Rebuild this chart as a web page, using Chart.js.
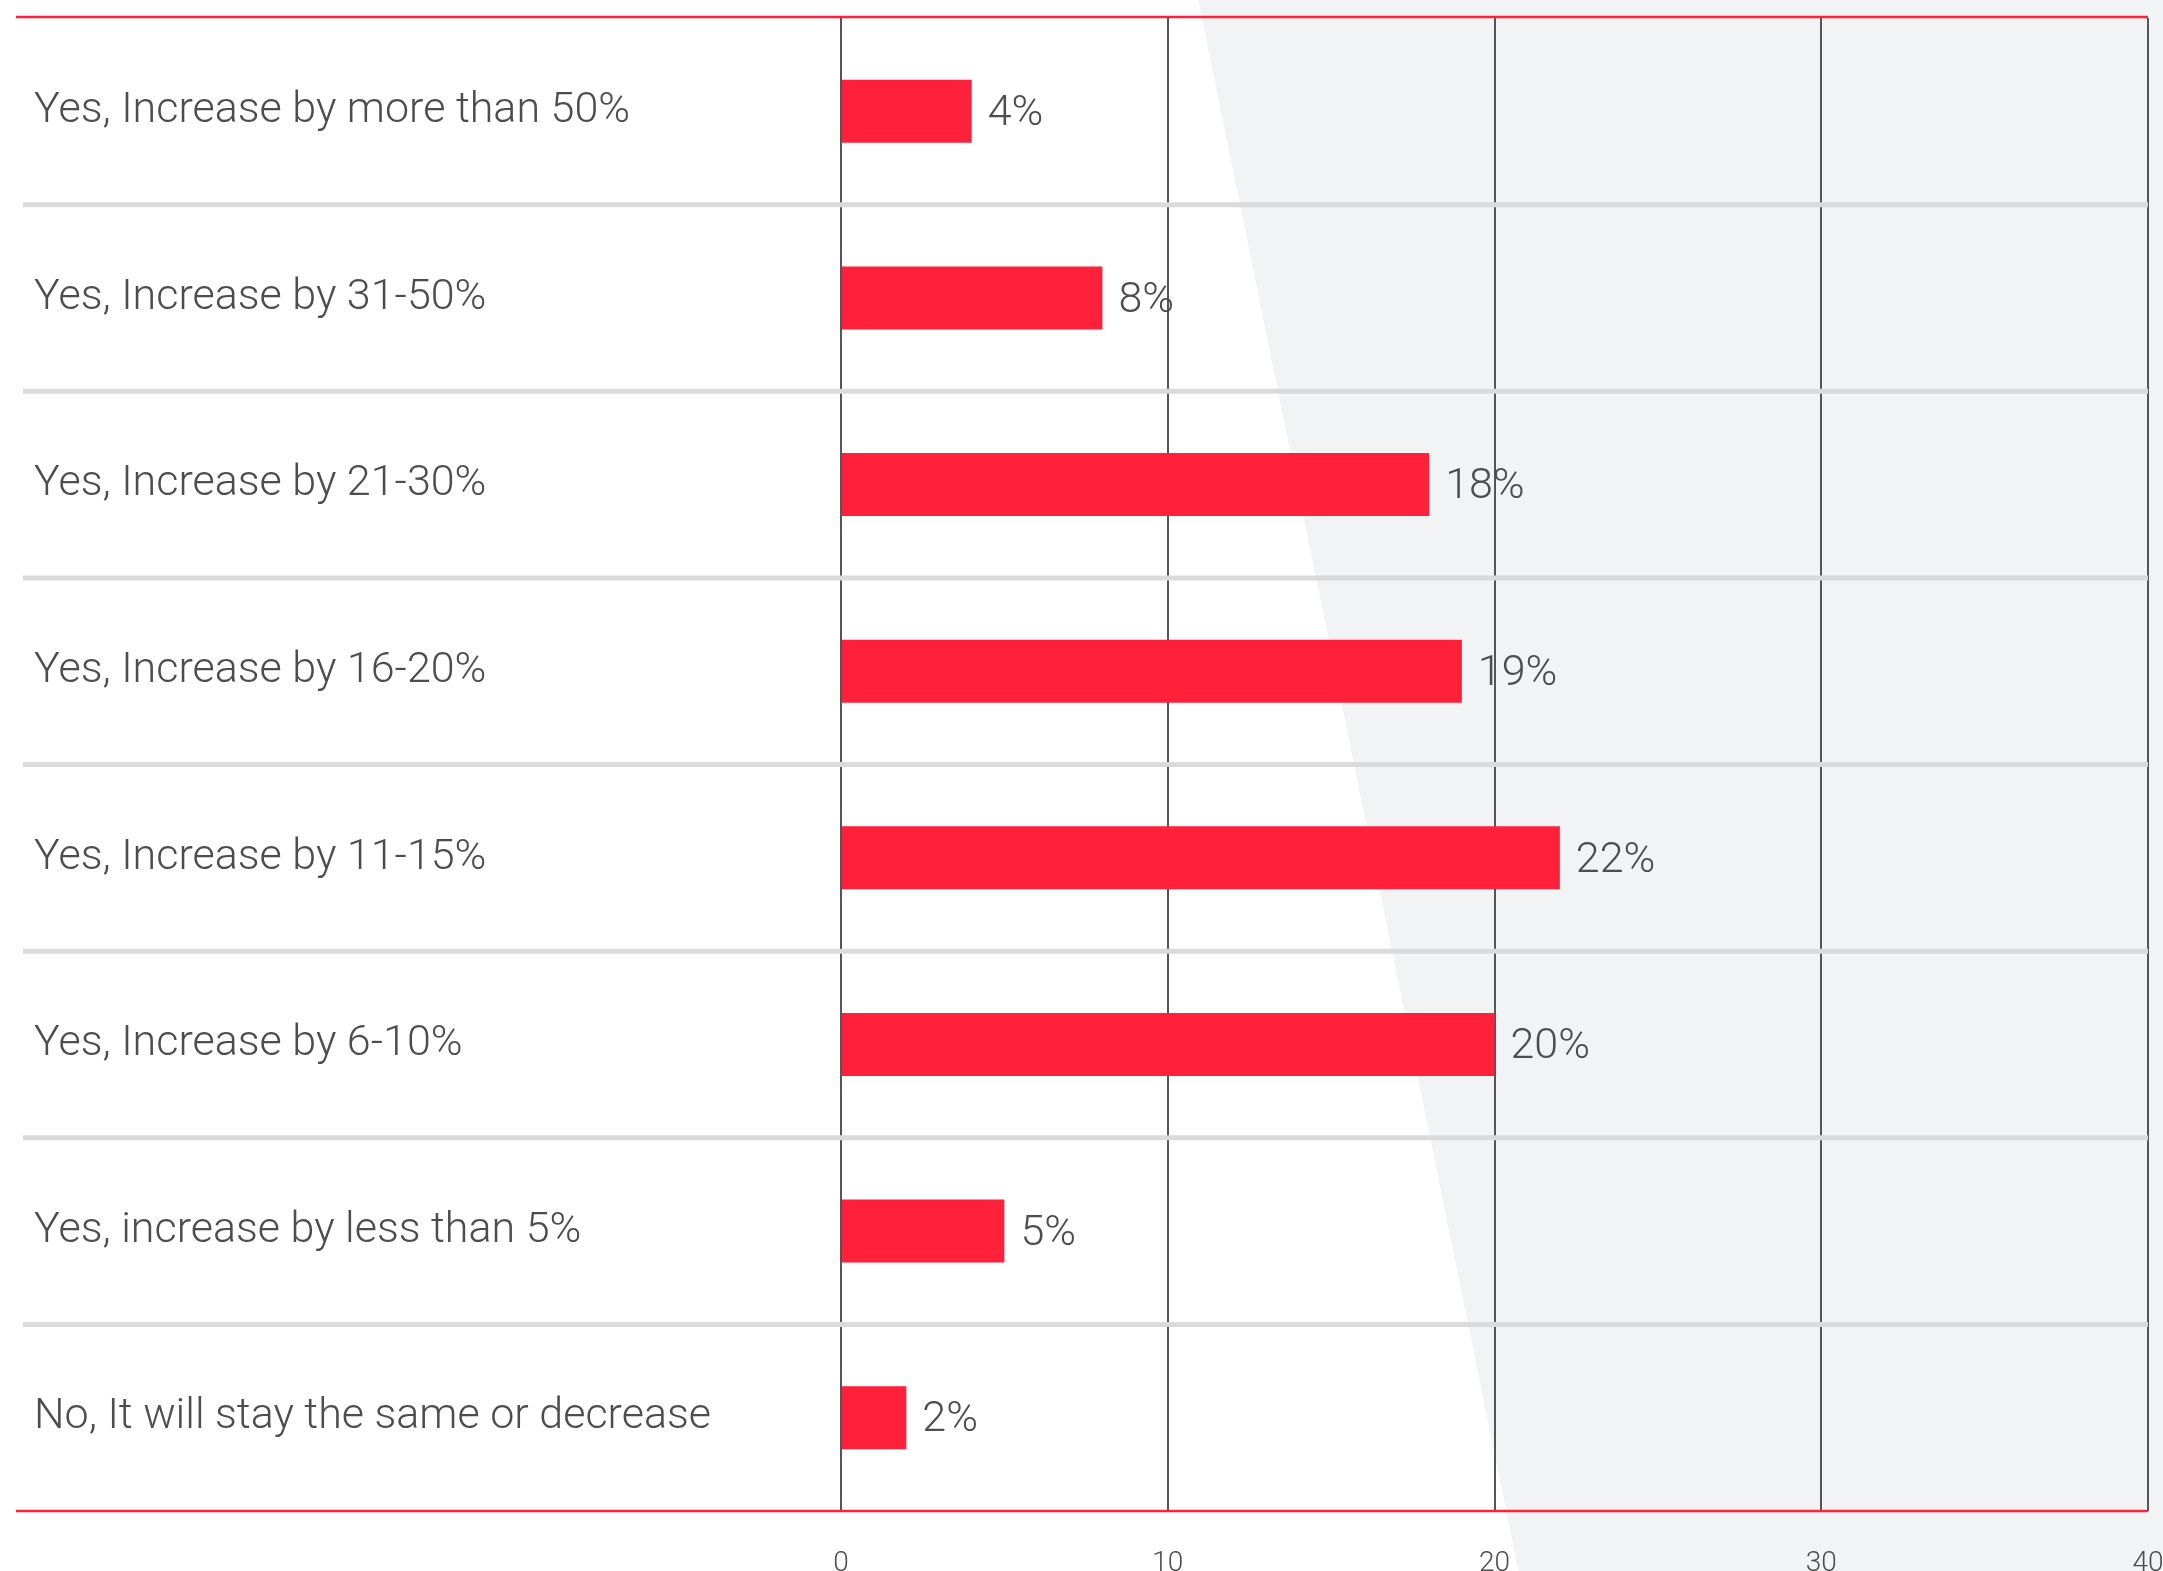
<!DOCTYPE html>
<html>
<head>
<meta charset="utf-8">
<script src="https://cdn.jsdelivr.net/npm/chart.js@4.4.1/dist/chart.umd.min.js"></script>
<style>
  html, body { margin: 0; padding: 0; background: #fff; }
  canvas { display: block; }
</style>
</head>
<body>
<canvas id="chart" width="2163" height="1571"></canvas>
<script>
const categories = [
    'Yes, Increase by more than 50%',
    'Yes, Increase by 31-50%',
    'Yes, Increase by 21-30%',
    'Yes, Increase by 16-20%',
    'Yes, Increase by 11-15%',
    'Yes, Increase by 6-10%',
    'Yes, increase by less than 5%',
    'No, It will stay the same or decrease'
];
const values = [4, 8, 18, 19, 22, 20, 5, 2];
const xMin = 0;
const xMax = 40;
const xStep = 10;

const RED = '#ff2039';
const TEXT = '#4d4d4d';
const FONT = 'Roboto, "Liberation Sans", Arial, sans-serif';

// grey slanted panel behind the right part of the plot
const backdrop = {
    id: 'backdrop',
    beforeDraw(chart) {
        const { ctx, width, height } = chart;
        ctx.save();
        ctx.fillStyle = '#fff';
        ctx.fillRect(0, 0, width, height);
        ctx.fillStyle = '#f2f3f5';
        ctx.beginPath();
        ctx.moveTo(width * 0.554, 0);
        ctx.lineTo(width, 0);
        ctx.lineTo(width, height);
        ctx.lineTo(width * 0.702, height);
        ctx.closePath();
        ctx.fill();
        ctx.restore();
    }
};

// light separators between rows, running under the labels too
const rowLines = {
    id: 'rowLines',
    beforeDatasetsDraw(chart) {
        const { ctx, chartArea } = chart;
        const y = chart.scales.y;
        ctx.save();
        ctx.strokeStyle = '#dadada';
        ctx.lineWidth = 5;
        for (let i = 0; i < categories.length - 1; i++) {
            const py = (y.getPixelForValue(i) + y.getPixelForValue(i + 1)) / 2;
            ctx.beginPath();
            ctx.moveTo(23, py);
            ctx.lineTo(chartArea.right, py);
            ctx.stroke();
        }
        ctx.restore();
    }
};

// red rules on top and bottom, value labels at bar ends
const frame = {
    id: 'frame',
    afterDatasetsDraw(chart) {
        const { ctx, chartArea } = chart;
        ctx.save();
        ctx.strokeStyle = RED;
        ctx.lineWidth = 2.5;
        [chartArea.top - 1, chartArea.bottom].forEach(py => {
            ctx.beginPath();
            ctx.moveTo(16, py);
            ctx.lineTo(chartArea.right, py);
            ctx.stroke();
        });

        ctx.fillStyle = TEXT;
        ctx.font = '300 43px ' + FONT;
        ctx.textAlign = 'left';
        ctx.textBaseline = 'middle';
        chart.getDatasetMeta(0).data.forEach((bar, i) => {
            ctx.fillText(values[i] + '%', bar.x + 16, bar.y + 3);
        });
        ctx.restore();
    }
};

new Chart(document.getElementById('chart'), {
    type: 'bar',
    data: {
        labels: categories,
        datasets: [{
            data: values,
            backgroundColor: RED,
            borderWidth: 0,
            barPercentage: 0.337,
            categoryPercentage: 1
        }]
    },
    options: {
        indexAxis: 'y',
        responsive: false,
        animation: false,
        devicePixelRatio: 1,
        layout: {
            padding: { left: 34, top: 18, right: 15, bottom: 0 }
        },
        plugins: {
            legend: { display: false },
            tooltip: { enabled: false }
        },
        scales: {
            x: {
                min: xMin,
                max: xMax,
                border: { display: false },
                grid: {
                    color: '#555',
                    lineWidth: 2,
                    drawTicks: false
                },
                ticks: {
                    stepSize: xStep,
                    padding: 36,
                    color: TEXT,
                    font: { family: FONT, size: 28, weight: '300' }
                },
                afterFit(scale) {
                    scale.height = 60;
                    // let the edge labels hang over instead of shrinking the plot
                    scale.paddingLeft = 0;
                    scale.paddingRight = 0;
                }
            },
            y: {
                border: { display: false },
                grid: { display: false },
                ticks: {
                    crossAlign: 'far',
                    color: TEXT,
                    font: { family: FONT, size: 43, weight: '300' }
                },
                afterFit(scale) {
                    scale.width = 807;
                    scale.paddingTop = 0;
                    scale.paddingBottom = 0;
                }
            }
        }
    },
    plugins: [backdrop, rowLines, frame]
});
</script>
</body>
</html>
